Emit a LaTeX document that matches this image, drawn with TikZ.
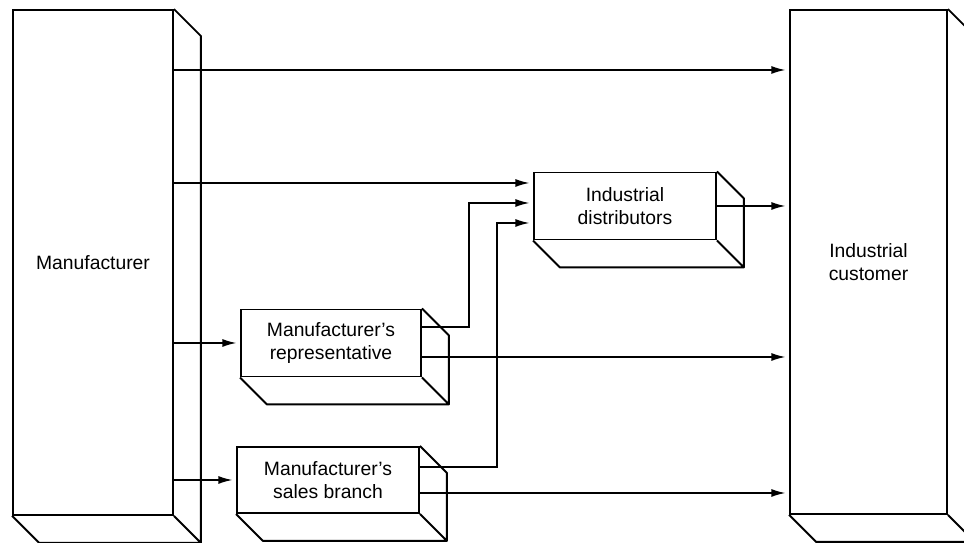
\documentclass[tikz,border=0pt]{standalone}
\usepackage{fontspec}
\setmainfont{Liberation Sans}
\usetikzlibrary{arrows.meta,calc}

\begin{document}
\begin{tikzpicture}[x=0.02cm,y=-0.02cm,
    box/.style={draw, line width=1.1pt, align=center, inner sep=0pt,
      font=\fontsize{11}{13.5}\selectfont},
    flow/.style={line width=0.9pt, -{Latex[length=8pt,width=4.5pt]}, shorten >=2pt}]
  \clip (0,0) rectangle (964,543);

  \node[box, minimum width=3.2cm, minimum height=10.1cm] (man) at (93,262.5) {Manufacturer};
  \node[box, minimum width=3.14cm, minimum height=10.08cm] (cust) at (868.5,262) {Industrial\\customer};
  \node[box, minimum width=3.64cm, minimum height=1.34cm] (dist) at (625,206) {Industrial\\distributors};
  \node[box, minimum width=3.6cm, minimum height=1.34cm] (rep) at (331,343) {Manufacturer's\\representative};
  \node[box, minimum width=3.64cm, minimum height=1.32cm] (sb) at (328,480) {Manufacturer's\\sales branch};

  % side and bottom faces
  \foreach \n in {man,cust,dist,rep,sb}
    \draw[line width=1.1pt, line join=round] (\n.north east) -- ++(27,27)
      -- ($(\n.south east)+(27,27)$) -- ($(\n.south west)+(27,27)$) -- (\n.south west)
      (\n.south east) -- ++(27,27);

  \draw[flow] (man.east |- 0,70) -- (cust.west |- 0,70);
  \draw[flow] (man.east |- 0,183) -- (dist.west |- 0,183);
  \draw[flow] (man.east |- rep.west) -- (rep.west);
  \draw[flow] (man.east |- sb.west) -- (sb.west);
  \draw[flow] (rep.east |- 0,327) -- (469,327) |- (dist.west |- 0,203);
  \draw[flow] (sb.east |- 0,467) -- (497,467) |- (dist.west |- 0,223);
  \draw[flow] (rep.east |- 0,357) -- (cust.west |- 0,357);
  \draw[flow] (sb.east |- 0,493) -- (cust.west |- 0,493);
  \draw[flow] (dist.east) -- (dist.east -| cust.west);
\end{tikzpicture}
\end{document}
